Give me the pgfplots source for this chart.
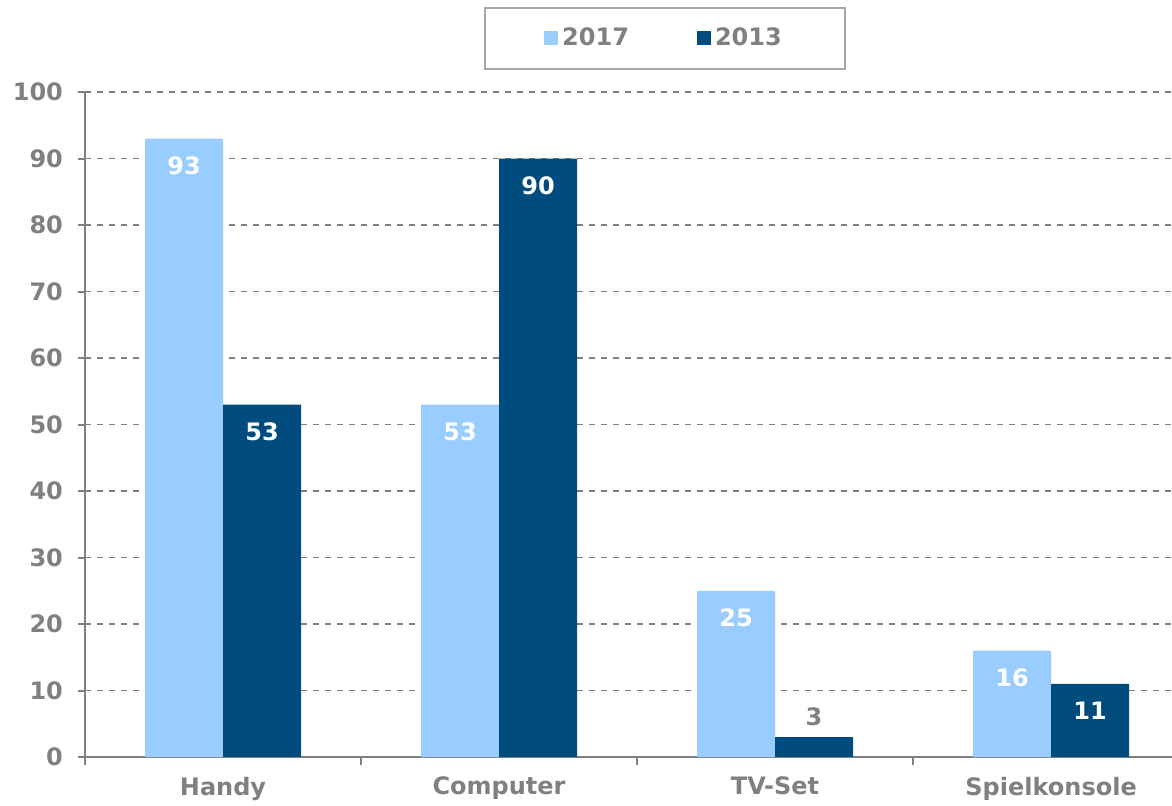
\documentclass[border=0pt]{standalone}
\usepackage{fontspec}
\setmainfont{DejaVu Sans}
\usepackage{pgfplots}
\pgfplotsset{compat=1.18}
\definecolor{lblue}{HTML}{99CCFF}
\definecolor{dblue}{HTML}{004C7F}
\definecolor{tgray}{HTML}{808080}
\newcommand{\lf}{\bfseries\fontsize{12}{14}\selectfont}
\begin{document}
\begin{tikzpicture}
\begin{axis}[
  at={(0pt,0pt)}, anchor=south west,
  scale only axis, width=543.5pt, height=332.5pt,
  xmin=-0.5, xmax=3.438, ymin=0, ymax=100,
  ybar=0pt, bar width=39pt,
  axis x line=bottom, axis y line=left,
  axis line style={-, draw=tgray, line width=1pt},
  ytick={0,10,...,100},
  ymajorgrids, grid style={dashed, draw=tgray, line width=0.6pt},
  xtick={0,1,2,3}, xticklabels={Handy,Computer,TV-Set,Spielkonsole},
  xtick style={draw=none},
  ytick style={draw=tgray, line width=1pt},
  tick align=outside, major tick length=3.5pt,
  extra x ticks={-0.5,0.5,1.5,2.5}, extra x tick labels={},
  extra x tick style={grid=none, xtick style={draw=tgray, line width=1pt}, major tick length=4pt},
  tick label style={font=\lf, text=tgray},
  /pgf/number format/assume math mode=true,
  yticklabel style={xshift=-4pt},
  xticklabel style={yshift=-3pt},
  legend columns=2,
  legend style={at={(axis description cs:0.5336,1.081)}, anchor=center,
    draw=tgray!70, line width=1pt, font=\lf, text=tgray,
    inner xsep=29.5pt, inner ysep=8pt,
    /tikz/every even column/.append style={column sep=32pt}},
  legend image code/.code={\fill[#1,draw=none] (0pt,-3.5pt) rectangle (7pt,3.5pt);},
  every node near coord/.append style={font=\lf, anchor=center},
]
\addplot[fill=lblue, draw=none, bar shift=-19.5pt,
  nodes near coords, every node near coord/.append style={text=white, yshift=-13.5pt}]
  coordinates {(0,93) (1,53) (2,25) (3,16)};
\addlegendentry{2017}
\addplot[fill=dblue, draw=none, bar shift=19.5pt,
  point meta=explicit symbolic, nodes near coords={\pgfplotspointmeta},
  every node near coord/.append style={text=white, yshift=-13.5pt}]
  table[meta=lab] {
x y lab
0 53 53
1 90 90
2 3 {}
3 11 11
};
\addlegendentry{2013}
\addplot[forget plot, draw=none, fill=none, bar shift=19.5pt,
  nodes near coords, every node near coord/.append style={text=tgray, yshift=10pt}]
  coordinates {(2,3)};
\end{axis}
\pgfresetboundingbox
\path[use as bounding box] (-42.5pt,-24pt) rectangle (543.5pt,378.5pt);
\end{tikzpicture}
\end{document}
